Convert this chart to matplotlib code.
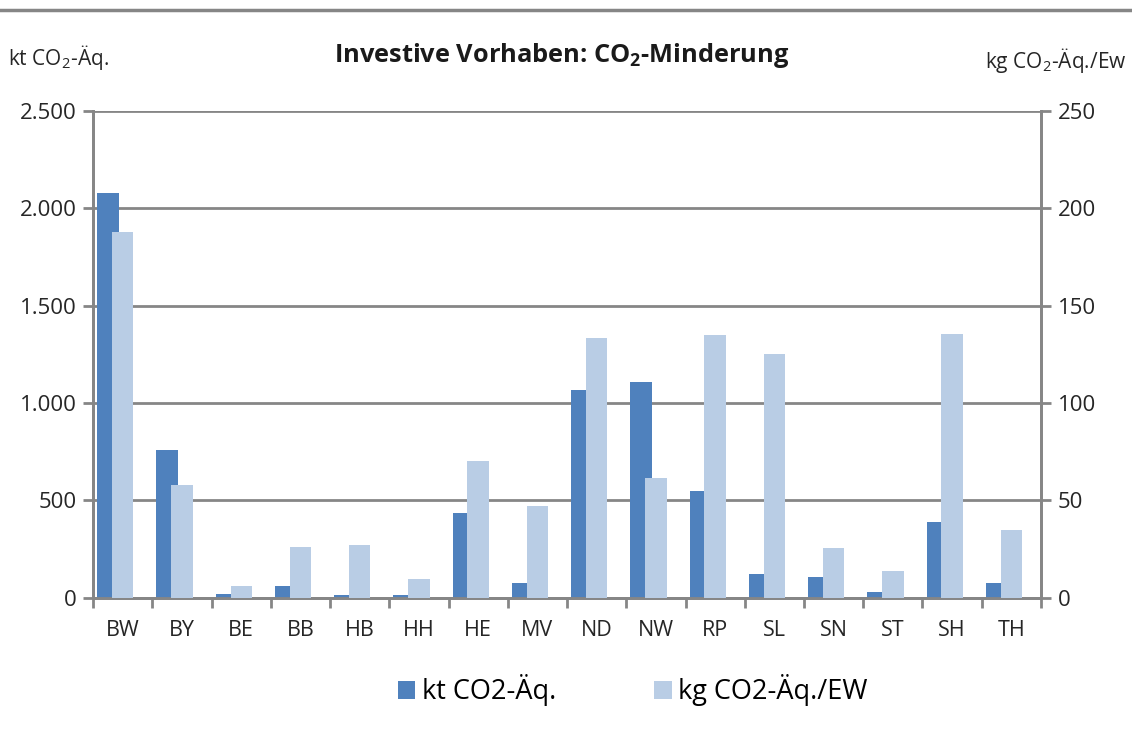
import matplotlib.pyplot as plt
from matplotlib.lines import Line2D
from matplotlib.ticker import FuncFormatter
import numpy as np

plt.rcParams['font.family'] = ['Open Sans', 'DejaVu Sans']
plt.rcParams['mathtext.fontset'] = 'custom'
plt.rcParams['mathtext.rm'] = 'Open Sans'
plt.rcParams['mathtext.bf'] = 'Open Sans:bold'

# data
laender = ['BW', 'BY', 'BE', 'BB', 'HB', 'HH', 'HE', 'MV', 'ND', 'NW',
           'RP', 'SL', 'SN', 'ST', 'SH', 'TH']
kt_co2 = [2080, 760, 20, 60, 13, 13, 433, 75, 1065, 1106,
          546, 119, 104, 27, 388, 73]
kg_pro_ew = [188, 57.7, 5.9, 25.8, 27.1, 9.7, 70, 47, 133.2, 61.5,
             134.7, 125, 25.6, 13.5, 135.4, 34.8]

dunkel = '#4F81BD'
hell = '#B9CDE5'
grau = '#868686'
textfarbe = '#262626'

fig = plt.figure(figsize=(11.32, 7.35), dpi=100)
ax = fig.add_axes([0.0822, 0.187, 0.8374, 0.662])
ax2 = ax.twinx()

x = np.arange(len(laender))
b1 = ax.bar(x - 0.245, kt_co2, width=0.37, color=dunkel, label='kt CO2-Äq.', zorder=3)
b2 = ax2.bar(x, kg_pro_ew, width=0.36, color=hell, label='kg CO2-Äq./EW', zorder=3)

ax.set_xlim(-0.5, len(laender) - 0.5)
ax.set_ylim(0, 2500)
ax2.set_ylim(0, 250)
ax.set_yticks(np.arange(0, 2501, 500))
ax2.set_yticks(np.arange(0, 251, 50))
ax.yaxis.set_major_formatter(FuncFormatter(lambda v, p: f'{int(v):,}'.replace(',', '.')))

ax.set_xticks(x)
ax.set_xticklabels(laender)
ax.set_xticks(np.arange(-0.5, len(laender)), minor=True)
ax.tick_params(axis='x', which='major', length=0, pad=16, labelsize=15.5, colors=textfarbe)
ax.tick_params(axis='x', which='minor', length=7, width=2, color=grau)
ax.tick_params(axis='y', length=7, width=2, color=grau, labelsize=16, labelcolor=textfarbe, pad=5)
ax2.tick_params(axis='y', length=7, width=2, color=grau, labelsize=16, labelcolor=textfarbe, pad=5)

ax.grid(axis='y', color=grau, linewidth=2, zorder=0)
ax.set_axisbelow(True)
for a in (ax, ax2):
    a.spines['top'].set_visible(False)
    for s in ('left', 'right', 'bottom'):
        a.spines[s].set_color(grau)
        a.spines[s].set_linewidth(2)

fig.text(0.496, 0.925, r'Investive Vorhaben: CO$_\mathbf{2}$-Minderung', ha='center', va='center',
         fontsize=18.3, fontweight='bold', color='#1a1a1a')
fig.text(0.007, 0.922, r'kt CO$_\mathrm{2}$-Äq.', ha='left', va='center', fontsize=15, color=textfarbe)
fig.text(0.995, 0.918, r'kg CO$_\mathrm{2}$-Äq./Ew', ha='right', va='center', fontsize=15, color=textfarbe)

fig.add_artist(Line2D([0, 1], [0.986, 0.986], color=grau, linewidth=2.5))

fig.legend([b1, b2], ['kt CO2-Äq.', 'kg CO2-Äq./EW'], loc='center', bbox_to_anchor=(0.559, 0.061),
           ncol=2, frameon=False, fontsize=19.5, handlelength=0.65, handleheight=0.65,
           handletextpad=0.25, columnspacing=3.6)

fig.savefig('out.png', dpi=100)
